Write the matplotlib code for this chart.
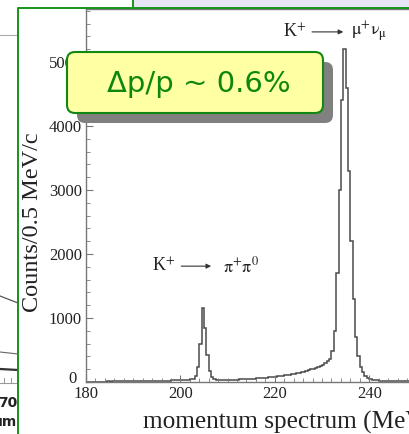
"""
Kaon decay momentum spectrum with the resolution callout
"""
import numpy as np
import matplotlib
matplotlib.use("Agg")
import matplotlib.pyplot as plt
import matplotlib.transforms as mtransforms
from matplotlib.patches import FancyBboxPatch, Rectangle

plt.rcParams['mathtext.fontset'] = 'stix'

# histogram: counts per 0.5 MeV/c bin, starting at 180 MeV/c
bin_start = 180.0
bin_width = 0.5
counts = [
    5, 6, 5, 7, 6, 6, 7, 6, 7, 8,                      # 180-185
    7, 8, 8, 9, 8, 9, 10, 9, 10, 11,                   # 185-190
    11, 12, 12, 13, 14, 14, 15, 16, 17, 18,            # 190-195
    18, 19, 20, 21, 22, 23, 24, 26, 27, 29,            # 195-200
    30, 31, 33, 36, 40, 50, 90, 230, 600, 1150,        # 200-205
    850, 420, 170, 80, 48, 38, 33, 31, 30, 31,         # 205-210
    32, 33, 34, 36, 38, 40, 42, 44, 46, 48,            # 210-215
    50, 53, 56, 59, 62, 65, 68, 72, 76, 80,            # 215-220
    84, 88, 93, 98, 104, 110, 116, 122, 130, 138,      # 220-225
    146, 155, 164, 174, 185, 196, 208, 220, 232, 250,  # 225-230
    270, 295, 325, 365, 480, 800, 1700, 3000, 4400, 5200,  # 230-235
    4600, 3300, 2200, 1300, 700, 400, 240, 150, 100, 70,   # 235-240
    50, 38, 30, 24, 19, 16, 14, 13, 12, 11,            # 240-245
    10, 10, 9, 9, 9, 8, 8, 8, 7, 7,                    # 245-250
    7, 7, 6, 6, 6, 6, 5, 5, 5, 5,                      # 250-255
    5, 5, 4, 4, 4, 4, 4, 4, 4, 4,                      # 255-260
]
x_ticks = [180, 200, 220, 240, 260]
y_ticks = [0, 1000, 2000, 3000, 4000, 5000]
callout_text = "\u0394p/p ~ 0.6%"

W, H = 409, 434
fig = plt.figure(figsize=(W / 100, H / 100), dpi=100)
fig.patch.set_facecolor('white')

# main spectrum axes (right part runs off the picture)
ax = fig.add_axes([86 / W, 52 / H, 377.6 / W, 372.5 / H])
edges = bin_start + bin_width * np.arange(len(counts) + 1)
ax.stairs(counts, edges, color='#4a4a4a', lw=1.1)
ax.set_xlim(180, 260)
ax.set_ylim(0, 5820)
ax.set_xticks(x_ticks)
ax.set_yticks(y_ticks)
ax.set_xticks(np.arange(180, 261, 2), minor=True)
ax.set_yticks(np.arange(0, 5801, 200), minor=True)
ax.tick_params(which='both', direction='in', colors='#777777',
               labelcolor='#222222', top=False, right=False)
ax.tick_params(which='major', length=5, width=0.8, pad=3)
ax.tick_params(which='minor', length=3, width=0.6)
for lab in ax.get_xticklabels() + ax.get_yticklabels():
    lab.set_fontfamily('Liberation Serif')
    lab.set_fontsize(12)
# the zero label sits a little higher and further left, as in the original
zero_lab = ax.get_yticklabels()[0]
zero_lab.set_transform(zero_lab.get_transform() +
                       mtransforms.ScaledTranslation(-5 / 100, 5 / 100, fig.dpi_scale_trans))
for sp in ax.spines.values():
    sp.set_color('#777777')
    sp.set_linewidth(1.0)

# decay labels
serif = dict(fontfamily='Liberation Serif', fontsize=13, color='#222222', va='center')
arrow = dict(arrowstyle='-|>', color='#333333', lw=0.8, mutation_scale=7)
ax.annotate('', xy=(207.1, 1810), xytext=(199.6, 1810), arrowprops=arrow)
ax.text(193.9, 1810, r'K$^{+}$', ha='left', **serif)
ax.text(209.0, 1810, r'$\mathrm{π}^{+}\mathrm{π}^{0}$', ha='left', **serif)
ax.annotate('', xy=(235.1, 5470), xytext=(227.3, 5470), arrowprops=arrow)
ax.text(221.8, 5470, r'K$^{+}$', ha='left', **serif)
ax.text(236.1, 5470, r'$\mathrm{μ}^{+}\mathrm{ν}_{\mathrm{μ}}$', ha='left', **serif)

fig.text(33 / W, 1 - 222 / H, 'Counts/0.5 MeV/c', rotation=90, ha='center',
         va='center', fontfamily='Liberation Serif', fontsize=17.5, color='#222222')
fig.text(143 / W, 1 - 429 / H, 'momentum spectrum (MeV/c)', ha='left',
         va='baseline', fontfamily='Liberation Serif', fontsize=18.2, color='#222222')

# overlay in pixel units for the slide decoration
ov = fig.add_axes([0, 0, 1, 1], zorder=5)
ov.set_xlim(0, W)
ov.set_ylim(H, 0)
ov.axis('off')
ov.patch.set_alpha(0)

ov.add_patch(Rectangle((133, -2), 290, 9.5, fc='#E6E6F6', ec='#179317', lw=1.4))
ov.plot([18, 18, 133], [H + 2, 7.5, 7.5], color='#179317', lw=1.4)

ov.add_patch(FancyBboxPatch((77, 62), 256, 61,
                            boxstyle='round,pad=0,rounding_size=8',
                            fc='#808080', ec='none'))
ov.add_patch(FancyBboxPatch((67, 52), 256, 61,
                            boxstyle='round,pad=0,rounding_size=8',
                            fc='#FFFFA4', ec='#118811', lw=1.5))
ov.text(199, 84, callout_text, ha='center', va='center', fontsize=21,
        fontfamily='DejaVu Sans', color='#0E870E')

# fragment of the neighbouring plot on the left
fr = fig.add_axes([0, 0, 17.5 / W, 1], zorder=4)
fr.set_xlim(0, 17.5)
fr.set_ylim(H, 0)
fr.axis('off')
fr.plot([0, 18], [35, 35], color='#aaaaaa', lw=0.8)
fr.plot([0, 18], [296, 303], color='#555555', lw=0.9)
fr.plot([0, 18], [352, 354], color='#666666', lw=0.8)
fr.plot([0, 18], [369, 370], color='#333333', lw=1.6)
fr.plot([0, 18], [383, 383], color='#999999', lw=0.8)
for tx in [4, 11]:
    fr.plot([tx, tx], [383, 378], color='#999999', lw=0.7)
fr.text(17.5, 403, '70', ha='right', va='center', fontsize=10,
        fontweight='bold', fontfamily='DejaVu Sans', color='#222222', clip_on=True)
fr.text(17.5, 422, 'um', ha='right', va='center', fontsize=10,
        fontweight='bold', fontfamily='DejaVu Sans', color='#222222', clip_on=True)

fig.savefig('out.png', dpi=100)
